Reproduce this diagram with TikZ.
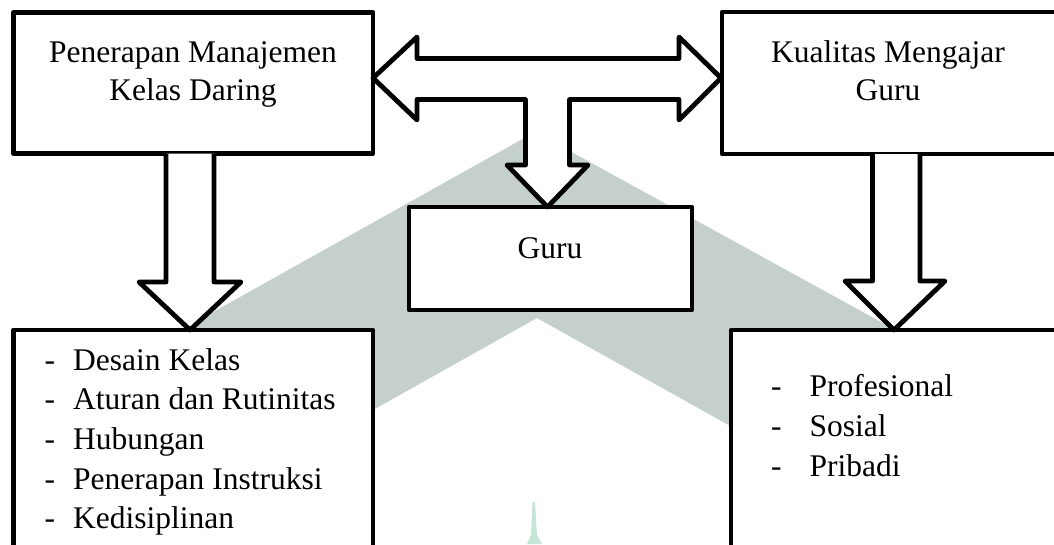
\documentclass[tikz,border=0pt]{standalone}
\usepackage{fontspec}
\setmainfont{Liberation Serif}
\usetikzlibrary{calc}
\definecolor{wmgray}{RGB}{197,207,203}
\definecolor{wmgreen}{RGB}{195,230,214}
\begin{document}
\begin{tikzpicture}[x=1pt,y=-1pt,
  box/.style={draw=black, fill=white, line width=4.8pt, rectangle, anchor=north west, inner sep=0pt, outer sep=0pt, line join=round},
  blockarrow/.style={draw=black, fill=white, line width=4.8pt, line join=round},
  txt/.style={font=\fontsize{31.5}{38}\selectfont, inner sep=0pt, anchor=base},
  item/.style={font=\fontsize{31.5}{38}\selectfont, inner sep=0pt, anchor=base west}]
\useasboundingbox (0,0) rectangle (1054,544);
\clip (0,0) rectangle (1054,544);
% watermark
\fill[wmgray] (20,420) -- (535,132) -- (1054,417) -- (1054,607) -- (537,318) -- (20,608) -- cycle;
\fill[wmgreen] (527,544) -- (531,535) -- (532.5,502) -- (535,502) -- (537,535) -- (542,544) -- cycle;
% boxes
\node[box, minimum width=359.5pt, minimum height=141pt] (b1) at (13.5,12.5) {};
\node[box, minimum width=340pt, minimum height=142pt] (b2) at (722,12) {};
\node[box, minimum width=283pt, minimum height=103pt] (g) at (409,207) {};
\node[box, minimum width=359.5pt, minimum height=230pt] (bl) at (13.5,330) {};
\node[box, minimum width=330pt, minimum height=230pt] (br) at (731,330) {};
% texts
\node[txt] (t1a) at (193,62) {Penerapan Manajemen};
\node[txt] (t1b) at (193,100) {Kelas Daring};
\node[txt] (t2a) at (888,62) {Kualitas Mengajar};
\node[txt] (t2b) at (888,100) {Guru};
\node[txt] (t3) at (550,258) {Guru};
% left list
\node[item] (d1) at (44.5,370) {-};
\node[item] (l1) at (73,370) {Desain Kelas};
\node[item] (d2) at (44.5,409.7) {-};
\node[item] (l2) at (73,409.7) {Aturan dan Rutinitas};
\node[item] (d3) at (44.5,449.4) {-};
\node[item] (l3) at (73,449.4) {Hubungan};
\node[item] (d4) at (44.5,489.1) {-};
\node[item] (l4) at (73,489.1) {Penerapan Instruksi};
\node[item] (d5) at (44.5,528.8) {-};
\node[item] (l5) at (73,528.8) {Kedisiplinan};
% right list
\node[item] (e1) at (771,396.7) {-};
\node[item] (r1) at (809.5,396.7) {Profesional};
\node[item] (e2) at (771,436.7) {-};
\node[item] (r2) at (809.5,436.7) {Sosial};
\node[item] (e3) at (771,476.7) {-};
\node[item] (r3) at (809.5,476.7) {Pribadi};
% double arrow with stem to Guru
\draw[blockarrow] ($(b1.north east)+(0,65.5)$) -- (417,37) -- (417,58.5) -- (679,58.5) -- (679,37)
  -- ($(b2.north west)+(-1,66)$) -- (679,120) -- (679,99.5) -- (569.5,99.5) -- (569.5,165) -- (588,165)
  -- ($(g.north west)+(138.5,0)$) -- (507,165) -- (525.5,165) -- (525.5,99.5) -- (417,99.5) -- (417,120) -- cycle;
% left down arrow
\draw[blockarrow] ($(b1.south west)+(152.5,0)$) -- (166,282) -- (139,282) -- ($(bl.north west)+(176.5,0)$)
  -- (241,282) -- (214,282) -- ($(b1.south west)+(200.5,0)$);
% right down arrow
\draw[blockarrow] ($(b2.south west)+(150.5,0)$) -- (872.5,281) -- (845,281) -- ($(br.north west)+(163,0)$)
  -- (945,281) -- (920,281) -- ($(b2.south west)+(198,0)$);
\end{tikzpicture}
\end{document}
